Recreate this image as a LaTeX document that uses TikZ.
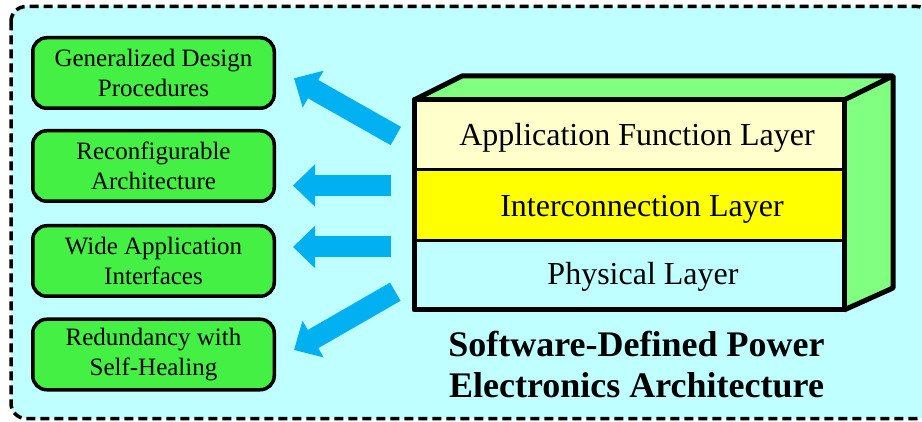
\documentclass[tikz,border=0pt]{standalone}
\usepackage{fontspec}
\setmainfont{Liberation Serif}
\usetikzlibrary{arrows.meta}
\definecolor{bgcyan}{HTML}{BFFFFF}
\definecolor{boxgreen}{HTML}{44F044}
\definecolor{facegreen}{HTML}{80FF80}
\definecolor{arrowblue}{HTML}{00B0F0}
\definecolor{applayer}{HTML}{FFFFCC}
\definecolor{interlayer}{HTML}{FFFF00}
\definecolor{physlayer}{HTML}{C0FFFF}
\tikzset{
  featbox/.style={draw, line width=3.5pt, fill=boxgreen, rounded corners=14pt,
    minimum width=241.5pt, minimum height=70.5pt, inner sep=0pt, align=center,
    font=\fontsize{25}{30}\selectfont},
  bigarrow/.style={draw=arrowblue, line width=21pt,
    -{Triangle[width=41pt,length=22pt]}},
  layertext/.style={anchor=base, inner sep=0pt, font=\fontsize{32}{38}\selectfont},
  titletext/.style={anchor=base, inner sep=0pt, font=\fontsize{36}{42}\selectfont\bfseries},
  outline/.style={line width=5pt, line join=round},
  sepline/.style={line width=3pt}
}
\begin{document}
\begin{tikzpicture}[x=1pt,y=-1pt]
\useasboundingbox (0,0) rectangle (922,422);
\fill[white] (0,0) rectangle (922,422);
\begin{scope}
  \clip (0,0) rectangle (922,422);
  \draw[fill=bgcyan, line width=3.5pt, dash pattern=on 9pt off 5pt, rounded corners=15pt]
    (11,6.5) rectangle (932,418.5);
\end{scope}

% feature boxes
\node[featbox] (g1) at (153.5,73) {Generalized Design\\Procedures};
\node[featbox] (g2) at (153.5,166) {Reconfigurable\\Architecture};
\node[featbox] (g3) at (153.5,261) {Wide Application\\Interfaces};
\node[featbox] (g4) at (153.5,354.5) {Redundancy with\\Self-Healing};

% arrows
\coordinate (t1) at (395.8,136);   \coordinate (h1) at (294,78.3);
\coordinate (t2) at (391,185.5);   \coordinate (h2) at (293,185.5);
\coordinate (t3) at (391,247);     \coordinate (h3) at (293,247);
\coordinate (t4) at (395.3,291.7); \coordinate (h4) at (294,350);
\draw[bigarrow] (t1) -- (h1);
\draw[bigarrow] (t2) -- (h2);
\draw[bigarrow] (t3) -- (h3);
\draw[bigarrow] (t4) -- (h4);

% 3D block
\coordinate (fa) at (414,100);
\coordinate (fb) at (844,100);
\coordinate (fc) at (844,310);
\coordinate (fd) at (414,310);
\coordinate (ba) at (462,76);
\coordinate (bb) at (893,76);
\coordinate (bc) at (893,288);
\fill[applayer] (414,100) rectangle (844,170);
\fill[interlayer] (414,170) rectangle (844,241);
\fill[physlayer] (414,241) rectangle (844,310);
\fill[facegreen] (fa) -- (ba) -- (bb) -- (fb) -- cycle;
\fill[facegreen] (fb) -- (bb) -- (bc) -- (fc) -- cycle;
\draw[sepline] (414,170) -- (844,170);
\draw[sepline] (414,241) -- (844,241);
\draw[outline] (fa) -- (fb) -- (fc) -- (fd) -- cycle;
\draw[outline] (fa) -- (ba) -- (bb) -- (fb);
\draw[outline] (bb) -- (bc) -- (fc);

\node[layertext] (l1) at (637,146) {Application Function Layer};
\node[layertext] (l2) at (642,217) {Interconnection Layer};
\node[layertext] (l3) at (643,285) {Physical Layer};

\node[titletext] (ti1) at (636.5,357) {Software-Defined Power};
\node[titletext] (ti2) at (636.5,398) {Electronics Architecture};
\end{tikzpicture}
\end{document}
